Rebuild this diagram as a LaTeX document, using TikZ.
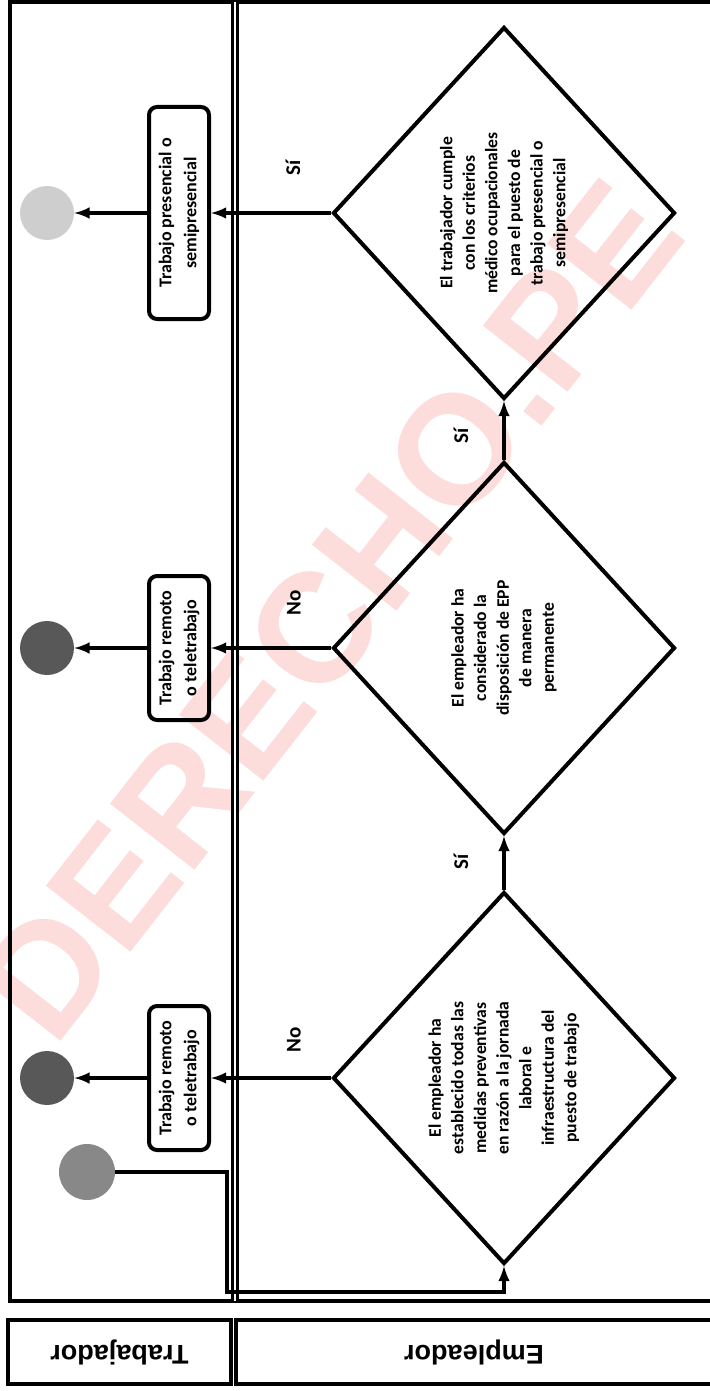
\documentclass[tikz,border=0pt]{standalone}
\usepackage{fontspec}
\setmainfont{Carlito}
\newfontfamily\arialfont{Liberation Sans}
\usepackage{tikz}
\usetikzlibrary{shapes.geometric, arrows, positioning}
\definecolor{wmpink}{RGB}{253,220,220}
\definecolor{finoscuro}{RGB}{88,88,88}
\definecolor{finclaro}{RGB}{206,206,206}
\definecolor{iniciogris}{RGB}{136,136,136}

\begin{document}
\begin{tikzpicture}[
	x=0.5pt, y=-0.5pt,
	decision/.style={
		draw, diamond, rotate=90,
		line width=2pt,
		aspect=1.1,
		inner sep=0pt,
		minimum width=186pt,
		minimum height=171pt,
		align=center,
		font=\fontsize{8.8}{11.3}\selectfont\bfseries
	},
	salida/.style={
		draw, rectangle, rounded corners=4pt, rotate=90,
		line width=2pt,
		minimum width=72pt, minimum height=30pt,
		inner sep=2pt, align=center,
		font=\fontsize{9}{12.5}\selectfont\bfseries
	},
	fin/.style={circle, fill=#1, inner sep=0pt, minimum size=27pt},
	inicio/.style={circle, fill=iniciogris, inner sep=0pt, minimum size=28pt},
	rama/.style={rotate=90, font=\fontsize{10.5}{12}\selectfont\bfseries},
	carril/.style={
		draw, rectangle, rotate=180,
		line width=2.4pt,
		minimum height=32pt,
		font=\arialfont\fontsize{13.5}{16}\selectfont\bfseries
	},
	flecha/.style={-latex, line width=1.6pt}
	]
	\useasboundingbox (0,0) rectangle (710,1391);
	
	% marca de agua
	\node[rotate=52, text=wmpink, font=\arialfont\bfseries\fontsize{78}{80}\selectfont] 
	(marca) at (330,610) {DERECHO.PE};
	
	% carriles
	\draw[line width=1.8pt] (712,2) -- (10,2) -- (10,1301) -- (712,1301);
	\draw[line width=1.3pt, double, double distance=1.2pt] (235,2) -- (235,1301);
	\node[carril, minimum width=111.5pt] (ltrab) at (119.5,1352) {Trabajador};
	\node[carril, minimum width=238pt] (lemp) at (474,1352) {Empleador};
	
	\node[decision] (d1) at (504,1078) 
	{El empleador ha\\establecido todas las\\medidas preventivas\\en razón a la jornada\\laboral e\\infraestructura del\\puesto de trabajo};
	\node[decision] (d2) at (504,648) 
	{El empleador ha\\considerado la\\disposición de EPP\\de manera\\permanente};
	\node[decision] (d3) at (504,213) 
	{El trabajador cumple\\con los criterios\\médico ocupacionales\\para el puesto de\\trabajo presencial o\\semipresencial};
	
	\node[salida] (b1) at (179,1078) {Trabajo remoto\\o teletrabajo};
	\node[salida] (b2) at (179,648) {Trabajo remoto\\o teletrabajo};
	\node[salida, minimum width=106pt] (b3) at (179,213) {Trabajo presencial o\\semipresencial};
	
	\node[fin=finoscuro] (f1) at (47,1078) {};
	\node[fin=finoscuro] (f2) at (47,648) {};
	\node[fin=finclaro] (f3) at (47,213) {};
	\node[inicio] (ini) at (87,1172) {};
	\coordinate (codo) at (227,1292);
	
	\node[rama] (no1) at (294,1040) {No};
	\node[rama] (si1) at (461,862) {Sí};
	\node[rama] (no2) at (294,603) {No};
	\node[rama] (si2) at (461,436) {Sí};
	\node[rama] (si3) at (293,168) {Sí};
	
	\draw[flecha] (ini) -| (codo) -| (d1);
	\draw[flecha] (d1) -- (d2);
	\draw[flecha] (d2) -- (d3);
	\draw[flecha] (d1) -- (b1);
	\draw[flecha] (b1) -- (f1);
	\draw[flecha] (d2) -- (b2);
	\draw[flecha] (b2) -- (f2);
	\draw[flecha] (d3) -- (b3);
	\draw[flecha] (b3) -- (f3);
\end{tikzpicture}
\end{document}
